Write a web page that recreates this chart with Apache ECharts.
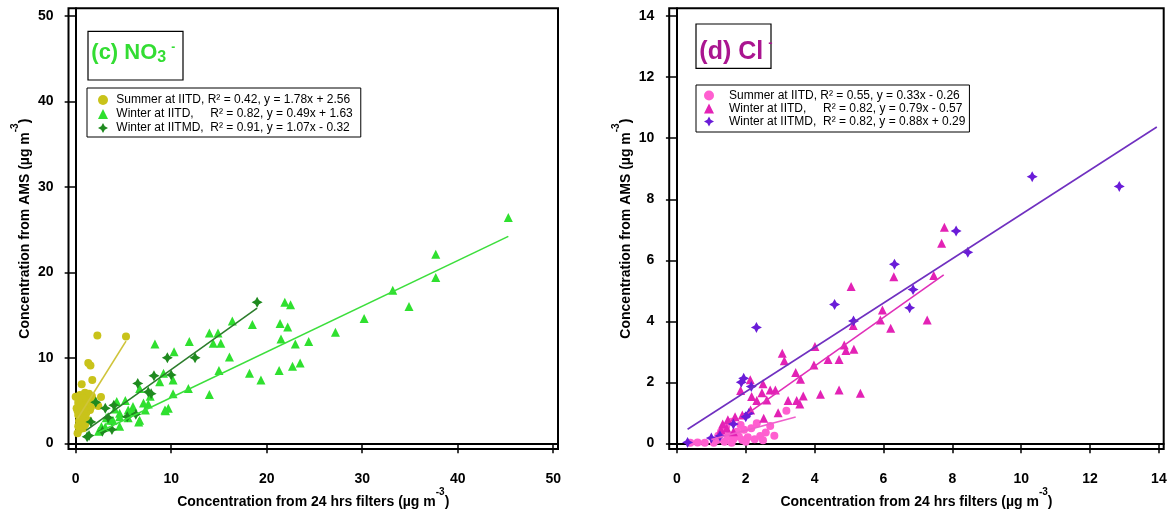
<!DOCTYPE html>
<html><head><meta charset="utf-8">
<script src="https://cdn.jsdelivr.net/npm/echarts@6/dist/echarts.min.js"></script>
<style>html,body{margin:0;padding:0;background:#fff}#c{width:1168px;height:510px}</style>
</head><body><div id="c"></div>
<script>
// ---- tick values ----
const no3XTicks = [0, 10, 20, 30, 40, 50];
const no3YTicks = [0, 10, 20, 30, 40, 50];
const clXTicks = [0, 2, 4, 6, 8, 10, 12, 14];
const clYTicks = [0, 2, 4, 6, 8, 10, 12, 14];

// ---- legend labels ----
const no3Labels = ['Summer at IITD, R² = 0.42, y = 1.78x + 2.56', 'Winter at IITD,     R² = 0.82, y = 0.49x + 1.63', 'Winter at IITMD,  R² = 0.91, y = 1.07x - 0.32'];
const clLabels = ['Summer at IITD, R² = 0.55, y = 0.33x - 0.26', 'Winter at IITD,     R² = 0.82, y = 0.79x - 0.57', 'Winter at IITMD,  R² = 0.82, y = 0.88x + 0.29'];

// ---- (c) NO3- data [filter, AMS] ----
const no3Summer = [[2.27,12.6],[5.27,12.5],[1.32,9.4],[1.55,9.1],[1.74,7.4],[0.63,6.9],[0.0,5.45],[2.65,5.4],[0.97,5.9],[1.39,5.8],[0.45,5.65],[1.84,5.06],[0.9,5.06],[0.27,4.7],[1.15,4.36],[0.63,3.9],[1.5,3.9],[0.27,3.3],[0.97,3.1],[0.45,2.7],[1.3,2.7],[0.27,2.0],[0.8,1.75],[0.2,1.17],[1.6,4.2],[1.1,3.5],[0.1,4.1],[0.7,2.3],[2.37,4.36],[1.4,5.06],[0.5,3.6],[0.8,4.5],[1.2,5.2],[0.35,2.6],[0.6,3.0],[0.9,4.0],[1.0,2.2],[0.4,1.6],[1.7,5.5],[0.2,3.8],[0.55,4.3],[1.25,4.8],[0.75,5.3],[0.3,5.0]];
const no3WinterIITD = [[45.3,26.4],[37.7,22.1],[37.7,19.4],[33.2,17.9],[34.9,16.0],[30.2,14.6],[27.2,13.0],[24.4,11.9],[21.9,16.5],[22.5,16.2],[21.4,14.0],[22.2,13.6],[21.5,12.2],[23.0,11.6],[21.3,8.5],[22.7,9.0],[23.5,9.4],[18.5,13.9],[16.4,14.3],[18.2,8.2],[19.4,7.4],[14.0,12.9],[14.9,12.9],[14.4,11.7],[15.2,11.7],[16.1,10.1],[15.0,8.5],[11.9,11.9],[8.3,11.6],[10.3,10.7],[14.0,5.7],[11.8,6.4],[10.2,7.4],[10.2,5.8],[9.7,4.1],[9.4,3.8],[8.8,7.2],[9.2,8.2],[7.8,5.5],[7.6,4.6],[7.3,3.9],[6.7,6.4],[6.6,2.5],[5.2,5.0],[4.3,4.9],[4.6,3.5],[3.9,2.7],[3.1,1.9],[2.4,1.4],[5.5,3.9],[6.0,4.3],[3.2,3.0],[4.1,4.0],[4.6,3.1],[5.5,3.0],[2.7,1.95],[7.1,4.7],[9.35,3.9],[5.9,3.7],[6.7,2.7],[3.6,2.7],[4.6,2.0]];
const no3WinterIITMD = [[1.2,0.75],[1.4,0.9],[1.6,2.5],[2.1,4.8],[2.8,1.4],[3.1,4.1],[3.4,3.0],[3.8,1.6],[4.0,4.45],[5.4,3.1],[6.3,3.4],[6.5,7.0],[7.6,6.0],[7.9,5.8],[8.2,7.9],[9.6,10.0],[10.0,8.0],[12.5,10.0],[19.0,16.5]];
const no3SummerFit = [[0.2,2.9],[5.27,11.95]];
const no3WinterIITDFit = [[2.4,1.3],[45.3,24.2]];
const no3WinterIITMDFit = [[1.1,1.5],[19.0,15.8]];

// ---- (d) Cl- data [filter, AMS] ----
const clSummer = [[3.18,1.07],[2.83,0.25],[2.58,0.35],[2.71,0.57],[2.26,0.13],[2.42,0.24],[2.16,0.49],[2.32,0.66],[1.95,0.44],[1.8,0.22],[1.64,0.13],[1.48,0.22],[1.38,0.05],[1.17,0.11],[0.81,0.02],[0.6,0.03],[0.39,0.02],[1.07,0.02],[1.59,0.02],[1.74,0.38],[2.06,0.2],[1.9,0.11],[1.28,0.38],[1.43,0.55],[1.59,0.71],[2.0,0.05],[2.5,0.1],[1.2,0.25],[1.85,0.6]];
const clWinterIITD = [[7.77,7.08],[7.69,6.56],[7.46,5.5],[6.3,5.46],[5.06,5.14],[5.97,4.37],[5.91,4.04],[6.21,3.77],[7.27,4.04],[5.12,3.86],[4.86,3.22],[4.91,3.04],[5.14,3.08],[4.39,2.75],[4.71,2.75],[4.01,3.17],[3.98,2.57],[3.06,2.95],[3.12,2.71],[3.45,2.32],[3.59,2.1],[3.67,1.55],[3.48,1.4],[3.57,1.29],[3.23,1.4],[4.17,1.61],[4.71,1.75],[5.33,1.64],[2.94,1.0],[2.13,2.08],[2.5,1.95],[2.17,1.53],[2.71,1.75],[2.86,1.75],[2.61,1.42],[2.32,1.4],[1.85,1.73],[2.47,1.66],[2.52,0.82],[2.14,1.09],[1.9,0.93],[1.48,0.77],[1.33,0.63],[1.69,0.87],[1.28,0.44],[1.45,0.49],[1.64,0.38]];
const clWinterIITMD = [[10.32,8.74],[12.85,8.42],[8.11,6.96],[8.45,6.26],[6.32,5.87],[6.86,5.04],[6.76,4.44],[4.58,4.55],[5.13,4.01],[2.31,3.80],[1.94,2.13],[1.87,2.0],[2.16,1.86],[2.0,0.87],[2.09,0.98],[1.64,0.63],[1.25,0.24],[1.0,0.17],[0.31,0.03]];
const clSummerFit = [[1.0,0.12],[3.45,0.86]];
const clWinterIITDFit = [[2.06,0.98],[7.75,5.52]];
const clWinterIITMDFit = [[0.31,0.46],[13.94,10.37]];

const F = '"Liberation Sans", Arial, sans-serif';
const STAR = 'path://M0,-10L3.5,-3.5L10,0L3.5,3.5L0,10L-3.5,3.5L-10,0L-3.5,-3.5Z';

const C = {
  no3S: '#c9c31a', no3W: '#2fe02f', no3M: '#1f8a1f',
  no3SL: '#cfc43a', no3WL: '#3cde3c', no3ML: '#2c7d2c',
  clS: '#ff5fd0', clW: '#e322b5', clM: '#6a1cd8',
  clSL: '#f060cc', clWL: '#e030b8', clML: '#7030c0'
};

const richName = {
  t: {fontSize: 14, fontWeight: 'bold', fontFamily: F, color: '#000', lineHeight: 22, verticalAlign: 'bottom'},
  s: {fontSize: 10, fontWeight: 'bold', fontFamily: F, color: '#000', lineHeight: 10, verticalAlign: 'top'}
};

function xAx(grid, min, max, ticks) {
  return {
    type: 'value', gridIndex: grid, min: min, max: max,
    name: '{t|Concentration from 24 hrs filters (µg m}{s|-3}{t|)}',
    nameLocation: 'middle', nameGap: 38, nameMoveOverlap: false,
    nameTextStyle: {rich: richName},
    axisLine: {show: true, lineStyle: {color: '#000', width: 2}},
    axisTick: {show: true, inside: false, length: 10, lineStyle: {color: '#000', width: 1.5}, customValues: ticks},
    axisLabel: {customValues: ticks, color: '#000', fontSize: 14, fontWeight: 'bold', fontFamily: F, margin: 23},
    splitLine: {show: false}
  };
}
function yAx(grid, min, max, ticks) {
  return {
    type: 'value', gridIndex: grid, min: min, max: max,
    name: '{t|Concentration from AMS (µg m}{s|-3}{t|)}',
    nameLocation: 'middle', nameGap: 36, nameRotate: 90, nameMoveOverlap: false,
    nameTextStyle: {rich: richName},
    axisLine: {show: true, lineStyle: {color: '#000', width: 2}},
    axisTick: {show: true, inside: false, length: 11, lineStyle: {color: '#000', width: 1.5}, customValues: ticks},
    axisLabel: {customValues: ticks, color: '#000', fontSize: 14, fontWeight: 'bold', fontFamily: F, margin: 15},
    splitLine: {show: false}
  };
}
function scat(name, data, idx, color, symbol, size) {
  return {type: 'scatter', name: name, data: data, xAxisIndex: idx, yAxisIndex: idx,
    symbol: symbol, symbolSize: size, itemStyle: {color: color, opacity: 1}, z: 3};
}
function fit(name, data, idx, color) {
  return {type: 'line', name: name, data: data, xAxisIndex: idx, yAxisIndex: idx,
    symbol: 'none', silent: true, lineStyle: {color: color, width: 1.6}, z: 4};
}
function legendCfg(labels, left, top, pad, lh, fmt) {
  return {
    data: labels, orient: 'vertical', left: left, top: top,
    padding: pad, itemGap: 0, itemWidth: 10, itemHeight: 10,
    backgroundColor: '#fff', borderColor: '#000', borderWidth: 1,
    formatter: fmt,
    textStyle: {fontSize: 12, fontFamily: F, color: '#000', lineHeight: lh},
    selectedMode: false
  };
}

const chart = echarts.init(document.getElementById('c'), null, {renderer: 'canvas'});
chart.setOption({
  animation: false,
  backgroundColor: '#fff',
  grid: [
    {left: 68.5, top: 8.3, width: 489.5, height: 440.7, show: true, borderColor: '#000', borderWidth: 2, backgroundColor: 'transparent', containLabel: false, outerBoundsMode: 'none'},
    {left: 669.2, top: 8.3, width: 494.5, height: 440.7, show: true, borderColor: '#000', borderWidth: 2, backgroundColor: 'transparent', containLabel: false, outerBoundsMode: 'none'}
  ],
  xAxis: [xAx(0, -0.75, 50.5, no3XTicks), xAx(1, -0.224, 14.14, clXTicks)],
  yAxis: [yAx(0, -0.67, 50.88, no3YTicks), yAx(1, -0.187, 14.26, clYTicks)],
  legend: [
    legendCfg(no3Labels, 87, 88, [5, 8, 2, 11], 14, ' {name}'),
    legendCfg(clLabels, 696, 85, [4, 4, 4, 8], 13, '   {name}')
  ],
  series: [
    fit('no3SummerFit', no3SummerFit, 0, C.no3SL),
    scat(no3Labels[0], no3Summer, 0, C.no3S, 'circle', 8),
    scat(no3Labels[1], no3WinterIITD, 0, C.no3W, 'triangle', 9),
    scat(no3Labels[2], no3WinterIITMD, 0, C.no3M, STAR, 11),
    fit('no3WinterFit', no3WinterIITDFit, 0, C.no3WL),
    fit('no3IITMDFit', no3WinterIITMDFit, 0, C.no3ML),
    scat(clLabels[0], clSummer, 1, C.clS, 'circle', 8),
    fit('clSummerFit', clSummerFit, 1, C.clSL),
    scat(clLabels[1], clWinterIITD, 1, C.clW, 'triangle', 9),
    scat(clLabels[2], clWinterIITMD, 1, C.clM, STAR, 11),
    fit('clWinterFit', clWinterIITDFit, 1, C.clWL),
    fit('clIITMDFit', clWinterIITMDFit, 1, C.clML)
  ],
  graphic: [
    {type: 'rect', shape: {x: 88, y: 31.3, width: 95, height: 48.7}, style: {fill: '#fff', stroke: '#000', lineWidth: 1.2}, z: 100},
    {type: 'text', x: 91.3, y: 41.3, z: 101, style: {
      text: '{m|(c) NO}{sub|3}{sp|-}', verticalAlign: 'top', align: 'left',
      rich: {
        m: {fontSize: 22, fontWeight: 'bold', fontFamily: F, fill: '#33dd33', lineHeight: 24, verticalAlign: 'middle'},
        sub: {fontSize: 16, fontWeight: 'bold', fontFamily: F, fill: '#33dd33', lineHeight: 14, verticalAlign: 'bottom'},
        sp: {fontSize: 12, fontWeight: 'bold', fontFamily: F, fill: '#33dd33', lineHeight: 8, verticalAlign: 'top', padding: [0, 0, 0, 5]}
      }}},
    {type: 'rect', shape: {x: 696, y: 24, width: 75, height: 44.3}, style: {fill: '#fff', stroke: '#000', lineWidth: 1.2}, z: 100},
    {type: 'text', x: 699.3, y: 37, z: 101, style: {
      text: '{m|(d) Cl}{sp|-}', verticalAlign: 'top', align: 'left',
      rich: {
        m: {fontSize: 25, fontWeight: 'bold', fontFamily: F, fill: '#aa1590', lineHeight: 30, verticalAlign: 'middle'},
        sp: {fontSize: 13, fontWeight: 'bold', fontFamily: F, fill: '#aa1590', lineHeight: 4, verticalAlign: 'top', padding: [0, 0, 0, 5]}
      }}}
  ]
});
</script>
</body></html>
